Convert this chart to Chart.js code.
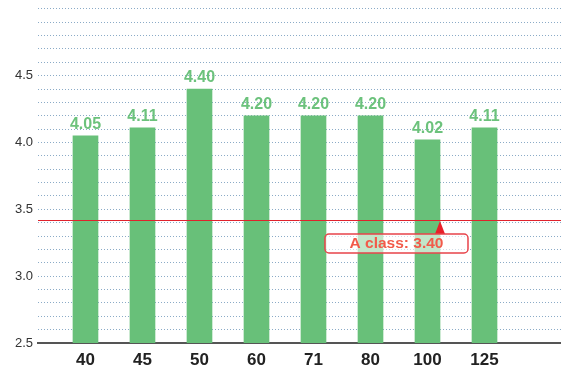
<!DOCTYPE html>
<html>
<head>
<meta charset="utf-8">
<script src="https://cdn.jsdelivr.net/npm/chart.js@4"></script>
<style>
html,body{margin:0;padding:0;background:#fff;}
#wrap{width:561px;height:367px;position:relative;}
</style>
</head>
<body>
<div id="wrap"><canvas id="c" width="561" height="367"></canvas></div>
<script>
const categories = ['40','45','50','60','71','80','100','125'];
const values = [4.05, 4.11, 4.40, 4.20, 4.20, 4.20, 4.02, 4.11];
const yTickLabels = ['2.5','3.0','3.5','4.0','4.5'];
const yGridValues = [2.5,2.6,2.7,2.8,2.9,3.0,3.1,3.2,3.3,3.4,3.5,3.6,3.7,3.8,3.9,4.0,4.1,4.2,4.3,4.4,4.5,4.6,4.7,4.8,4.9,5.0];
const thresholdValue = [3.42];
const thresholdLabel = ['A class: 3.40'];
const thresholdAnchorIndex = [6];

const FONT = "'Liberation Sans', Arial, sans-serif";

const dataLabels = {
  id: 'dataLabels',
  afterDatasetsDraw(chart) {
    const ctx = chart.ctx;
    const meta = chart.getDatasetMeta(0);
    ctx.save();
    ctx.font = 'bold 16px ' + FONT;
    ctx.fillStyle = '#6cc27c';
    ctx.textAlign = 'center';
    ctx.textBaseline = 'alphabetic';
    meta.data.forEach((bar, i) => {
      ctx.fillText(values[i].toFixed(2), bar.x, bar.y - 7);
    });
    ctx.restore();
  }
};

const thresholdPlugin = {
  id: 'threshold',
  afterDatasetsDraw(chart) {
    const ctx = chart.ctx;
    const ca = chart.chartArea;
    const ys = chart.scales.y, xs = chart.scales.x;
    const y = Math.round(ys.getPixelForValue(thresholdValue[0])) + 0.5;
    ctx.save();
    ctx.strokeStyle = '#e0222c';
    ctx.lineWidth = 1;
    ctx.beginPath();
    ctx.moveTo(ca.left, y);
    ctx.lineTo(ca.right, y);
    ctx.stroke();
    const tipX = xs.getPixelForValue(thresholdAnchorIndex[0]) + 12.5;
    const boxTop = y + 13.5;
    const boxH = 19, boxW = 143;
    const boxCx = tipX - 43.5;
    const bx = boxCx - boxW / 2;
    ctx.fillStyle = '#e8202a';
    ctx.beginPath();
    ctx.moveTo(tipX, y + 0.5);
    ctx.lineTo(tipX + 5, boxTop);
    ctx.lineTo(tipX - 5, boxTop);
    ctx.closePath();
    ctx.fill();
    ctx.fillStyle = 'rgba(255,255,255,0.6)';
    ctx.strokeStyle = '#e8434a';
    ctx.lineWidth = 1.5;
    ctx.beginPath();
    ctx.roundRect(bx, boxTop, boxW, boxH, 4);
    ctx.fill();
    ctx.stroke();
    ctx.font = 'bold 15.5px ' + FONT;
    ctx.fillStyle = '#f25a4a';
    ctx.textAlign = 'center';
    ctx.textBaseline = 'middle';
    ctx.fillText(thresholdLabel[0], boxCx, boxTop + boxH / 2 + 0.5);
    ctx.restore();
  }
};

new Chart(document.getElementById('c'), {
  type: 'bar',
  data: {
    datasets: [{
      data: values.map((v, i) => ({x: i, y: v})),
      backgroundColor: '#68c079',
      borderWidth: 0,
      barThickness: 25
    }]
  },
  plugins: [dataLabels, thresholdPlugin],
  options: {
    responsive: false,
    animation: false,
    layout: {padding: {top: 8, right: 0, left: 0, bottom: 0}},
    plugins: {legend: {display: false}, tooltip: {enabled: false}},
    scales: {
      x: {
        type: 'linear',
        offset: false,
        min: -0.833,
        max: 8.342,
        afterBuildTicks(scale) {
          scale.ticks = categories.map((c, i) => ({value: i}));
        },
        afterFit(scale) { scale.height = 24; },
        grid: {display: false, drawTicks: false, offset: false},
        border: {display: true, color: '#555', width: 2},
        ticks: {
          autoSkip: false,
          maxRotation: 0,
          padding: 7,
          color: '#222',
          font: {family: FONT, size: 17, weight: 'bold'},
          callback: (v) => categories[v] !== undefined ? categories[v] : ''
        }
      },
      y: {
        min: 2.5,
        max: 5.0,
        afterBuildTicks(scale) {
          scale.ticks = yGridValues.map(v => ({value: v}));
        },
        afterFit(scale) { scale.width = 38; },
        grid: {
          color: 'rgba(110,150,185,0.8)',
          lineWidth: 1,
          drawTicks: false
        },
        border: {display: false, dash: [1, 2]},
        ticks: {
          autoSkip: false,
          padding: 5,
          color: '#333',
          font: {family: FONT, size: 13, lineHeight: 0.6},
          callback: (v) => {
            const s = (Math.round(v * 10) / 10).toFixed(1);
            return yTickLabels.includes(s) ? s : '';
          }
        }
      }
    }
  }
});
</script>
</body>
</html>
